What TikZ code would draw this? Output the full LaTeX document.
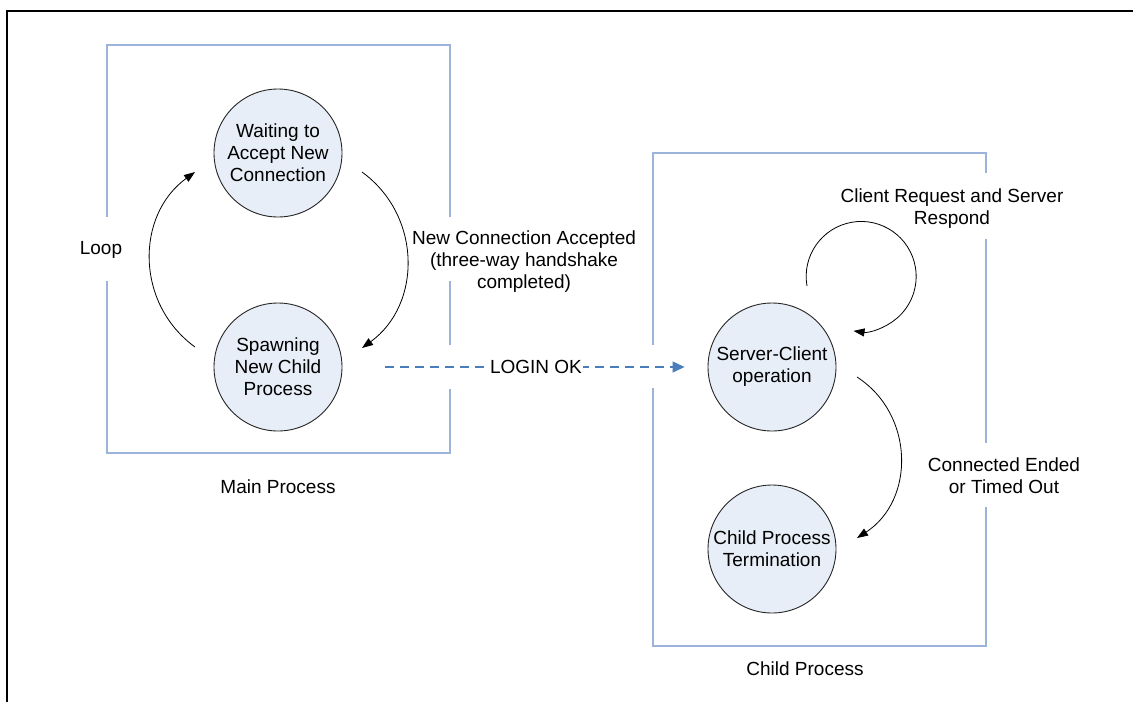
\documentclass[tikz,border=0pt]{standalone}
\usepackage{fontspec}
\setmainfont{Liberation Sans}
\usetikzlibrary{arrows.meta}
\definecolor{procfill}{HTML}{E8EEF7}
\definecolor{boxline}{HTML}{9CB4DC}
\definecolor{loginline}{HTML}{4A7EBB}

\begin{document}
\begin{tikzpicture}[x=1pt,y=1pt,font=\fontsize{19}{22}\selectfont,
  proc/.style={circle,draw=black!85,line width=0.9pt,fill=procfill,minimum size=128pt,inner sep=0pt,align=center},
  procbox/.style={draw=boxline,line width=1.6pt},
  trans/.style={->,>={Triangle[length=11pt,width=8pt]},line width=0.8pt},
  login/.style={->,>={Triangle[length=12pt,width=11pt]},draw=loginline,line width=1.1pt,dash pattern=on 9pt off 6pt}]
\useasboundingbox (0,0) rectangle (1133,-702);
\draw[line width=2pt] (6.5,-702) -- (6.5,-11) -- (1133,-11);

% process boxes, open where the labels sit
\draw[procbox] (107,-217) -- (107,-45) -- (450,-45) -- (450,-217)
               (450,-281) -- (450,-345) (450,-389) -- (450,-453) -- (107,-453) -- (107,-281);
\draw[procbox] (653,-345) -- (653,-153) -- (986,-153) -- (986,-173)
               (986,-239) -- (986,-443) (986,-507) -- (986,-646) -- (653,-646) -- (653,-388);

\node[proc] (p_wait) at (278,-153) {Waiting to\\Accept New\\Connection};
\node[proc] (p_spawn) [below of = p_wait, node distance = 214pt] {Spawning\\New Child\\Process};
\node[proc] (c_serv) [right of = p_spawn, node distance = 494pt] {Server-Client\\operation};
\node[proc] (c_term) [below of = c_serv, node distance = 182pt] {Child Process\\Termination};

\draw[trans] ([shift={(-83,20)}]p_spawn.center) to[out=144,in=-144,looseness=1.08] ([shift={(-83,-19)}]p_wait.center);
\draw[trans] ([shift={(84,-19)}]p_wait.center) to[out=-36,in=36,looseness=1.08] ([shift={(84,19)}]p_spawn.center);
\draw[trans] ([shift={(35,81)}]c_serv.center) arc[start angle=190,end angle=-98,radius=55];
\draw[trans] ([shift={(85,-10)}]c_serv.center) to[out=-33,in=33,looseness=1.1] ([shift={(85,11)}]c_term.center);

\draw[login,shorten <=43pt,shorten >=23pt] (p_spawn) -- node[pos=0.53,fill=white,inner xsep=1pt,inner ysep=1pt,text=black] (l_login) {LOGIN OK} (c_serv);

\node (l_loop) at (101,-250) {Loop};
\node[align=center] (l_acc) at (524,-262) {New Connection Accepted\\(three-way handshake\\completed)};
\node[align=center] (l_req) at (952,-209) {Client Request and Server\\Respond};
\node[align=center] (l_end) at (1004,-476) {Connected Ended\\or Timed Out};
\node (l_main) at (278,-487) {Main Process};
\node (l_child) at (805,-669) {Child Process};
\end{tikzpicture}
\end{document}
